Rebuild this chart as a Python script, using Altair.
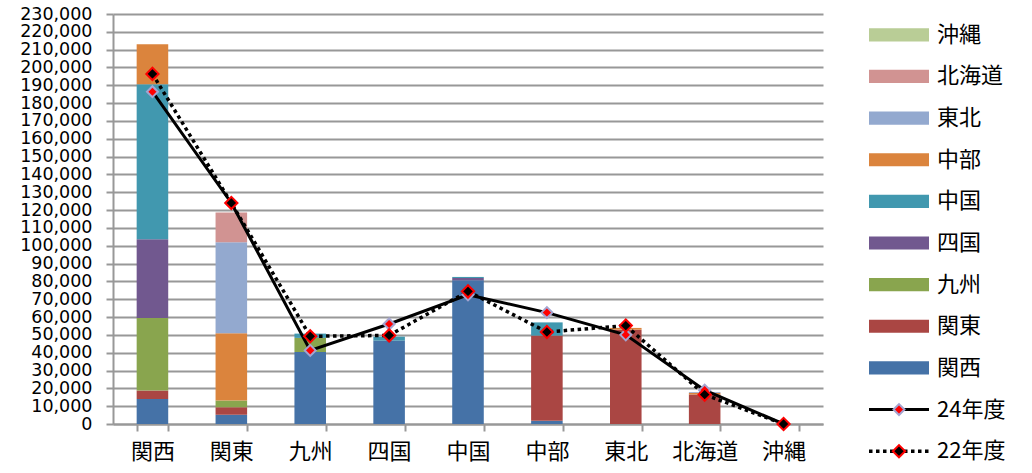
import altair as alt
import pandas as pd

# Destination regions along the x axis
regions = ["関西", "関東", "九州", "四国", "中国", "中部", "東北", "北海道", "沖縄"]

# Stacked origin series (bottom to top) and their colours
series_names = ["関西", "関東", "九州", "四国", "中国", "中部", "東北", "北海道", "沖縄"]
series_colors = ["#4572A7", "#AA4643", "#89A54E", "#71588F", "#4198AF",
                 "#DB843D", "#93A9CF", "#D19392", "#B9CD96"]

# Values of each origin series per destination region
s_kansai   = [14000, 5200, 40400, 46800, 80600, 1800, 0, 0, 0]
s_kanto    = [4800, 4200, 0, 0, 0, 47800, 52900, 16500, 0]
s_kyushu   = [40600, 3800, 7900, 0, 0, 0, 0, 0, 0]
s_shikoku  = [44200, 0, 0, 0, 1300, 0, 0, 0, 0]
s_chugoku  = [87000, 0, 2400, 2200, 600, 7400, 0, 0, 0]
s_chubu    = [22400, 37700, 0, 0, 0, 0, 1000, 1000, 0]
s_tohoku   = [0, 51000, 0, 0, 0, 0, 0, 400, 0]
s_hokkaido = [0, 16800, 0, 0, 0, 0, 0, 0, 0]
s_okinawa  = [0, 0, 0, 0, 0, 0, 0, 0, 0]
series_values = [s_kansai, s_kanto, s_kyushu, s_shikoku, s_chugoku,
                 s_chubu, s_tohoku, s_hokkaido, s_okinawa]

# Totals by fiscal year
total_24 = [186400, 124000, 41300, 56100, 72500, 62500, 50000, 19000, 0]
total_22 = [196400, 124000, 49200, 49700, 74400, 51600, 55200, 16500, 0]

y_ticks = list(range(0, 230001, 10000))

GRID = "#989898"
CJK = "Noto Sans CJK JP"

bar_rows = []
for idx, (name, vals) in enumerate(zip(series_names, series_values)):
    for region, v in zip(regions, vals):
        bar_rows.append({"region": region, "series": name, "idx": idx, "value": v})
bars_df = pd.DataFrame(bar_rows)

lines_df = pd.DataFrame({"region": regions, "y24": total_24, "y22": total_22})

x_scale = alt.Scale(paddingInner=0.6, paddingOuter=0.3)
x_axis = alt.Axis(labelAngle=0, labelFont=CJK, labelFontSize=22, labelColor="#000000",
                  labelPadding=10, tickBand="extent", tickSize=7, tickColor=GRID,
                  tickWidth=2, domainColor=GRID, domainWidth=2, grid=False)
x_enc = alt.X("region:N", sort=regions, title=None, scale=x_scale, axis=x_axis)

y_scale = alt.Scale(domain=[0, 230000], nice=False)
y_axis = alt.Axis(values=y_ticks, format=",d", labelFont="DejaVu Sans", labelFontSize=17.5,
                  labelColor="#000000", labelOverlap=False, labelFlush=False, labelBound=False,
                  labelPadding=14, tickSize=7, tickColor=GRID, tickWidth=2,
                  domainColor=GRID, domainWidth=2, grid=True, gridColor=GRID, gridWidth=2)


def y_enc(field, **kw):
    return alt.Y(field, scale=y_scale, axis=y_axis, title=None, **kw)


bars = alt.Chart(bars_df).mark_bar().encode(
    x=x_enc,
    y=y_enc("value:Q", stack="zero"),
    color=alt.Color("series:N", scale=alt.Scale(domain=series_names, range=series_colors), legend=None),
    order=alt.Order("idx:Q", sort="ascending"),
)

base = alt.Chart(lines_df).encode(x=x_enc)

line24 = base.mark_line(color="#000000", strokeWidth=3).encode(y=y_enc("y24:Q"))
pts24 = base.mark_point(shape="diamond", filled=True, fill="#FF0000", stroke="#A4A4D0",
                        strokeWidth=2, size=120, opacity=1).encode(y=y_enc("y24:Q"))
line22 = base.mark_line(color="#000000", strokeWidth=3.5, strokeDash=[3.5, 3.5],
                        strokeCap="butt").encode(y=y_enc("y22:Q"))
pts22 = base.mark_point(shape="diamond", filled=True, fill="#000000", stroke="#FF0000",
                        strokeWidth=2, size=150, opacity=1).encode(y=y_enc("y22:Q"))

main = alt.layer(bars, line24, line22, pts24, pts22).properties(width=710, height=410)

# Legend panel
legend_labels = list(reversed(series_names)) + ["24年度", "22年度"]
legend_colors = list(reversed(series_colors)) + ["#000000", "#000000"]
legend_kind = ["bar"] * 9 + ["solid", "dot"]
leg_df = pd.DataFrame({"label": legend_labels, "col": legend_colors, "kind": legend_kind})

leg_y = alt.Y("label:N", sort=legend_labels, axis=None,
              scale=alt.Scale(type="point", padding=0.5))
leg = alt.Chart(leg_df)

swatches = leg.transform_filter(alt.datum.kind == "bar").mark_point(
    shape="M-1,-0.22H1V0.22H-1Z", filled=True, size=3600, opacity=1).encode(
    x=alt.value(30), y=leg_y, fill=alt.Color("col:N", scale=None))
rule_solid = leg.transform_filter(alt.datum.kind == "solid").mark_rule(
    color="#000000", strokeWidth=3).encode(x=alt.value(0), x2=alt.value(60), y=leg_y)
rule_dot = leg.transform_filter(alt.datum.kind == "dot").mark_rule(
    color="#000000", strokeWidth=3.5, strokeDash=[3.5, 3.5], strokeCap="butt").encode(
    x=alt.value(0), x2=alt.value(60), y=leg_y)
dia24 = leg.transform_filter(alt.datum.kind == "solid").mark_point(
    shape="diamond", filled=True, fill="#FF0000", stroke="#A4A4D0", strokeWidth=2,
    size=120, opacity=1).encode(x=alt.value(30), y=leg_y)
dia22 = leg.transform_filter(alt.datum.kind == "dot").mark_point(
    shape="diamond", filled=True, fill="#000000", stroke="#FF0000", strokeWidth=2,
    size=150, opacity=1).encode(x=alt.value(30), y=leg_y)
labels = leg.mark_text(align="left", baseline="middle", font=CJK, fontSize=22,
                       color="#000000").encode(x=alt.value(68), y=leg_y, text="label:N")

legend_panel = alt.layer(swatches, rule_solid, rule_dot, dia24, dia22, labels).properties(
    width=160, height=458)

chart = alt.hconcat(main, legend_panel, spacing=44).properties(
    padding={"left": 19, "top": 5, "right": 0, "bottom": 0}
).configure_view(stroke=None)

chart.save("out.html", embed_options={"renderer": "svg", "actions": False})
